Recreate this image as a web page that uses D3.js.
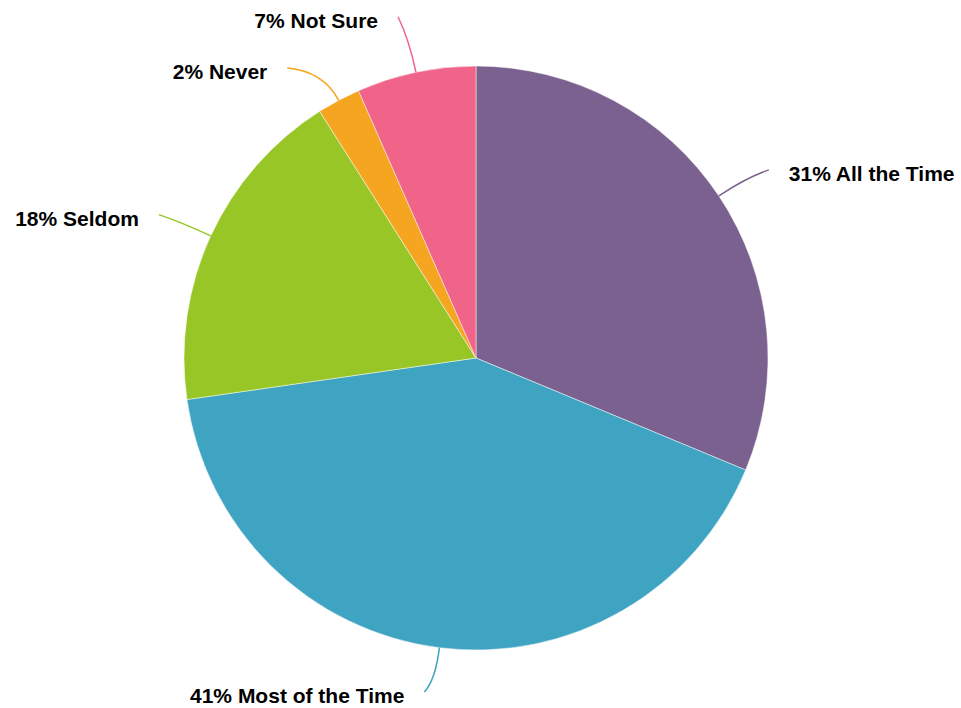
<!doctype HTML>
<html>
<head>
    <style>
        body { margin: 0; background: #fff; }
        .label { font-family: "Liberation Sans", Arial, sans-serif; font-weight: bold; font-size: 21px; fill: #000; }
    </style>
    <script src="https://d3js.org/d3.v7.min.js"></script>
</head>
<body>
<div id="pieChart"></div>
<script>

    // data
    var categories = ["All the Time", "Most of the Time", "Seldom", "Never", "Not Sure"];
    var values = [31.3, 41.5, 18.3, 2.4, 6.6];
    var labels = ["31%", "41%", "18%", "2%", "7%"];
    var colors = ["#7b618f", "#3fa3c2", "#97c626", "#f5a51f", "#f0648a"];

    var width = 961, height = 708;
    var cx = 476, cy = 358, radius = 292;

    // small nudges for the label ends, layout only
    var labelNudge = [1, 1.6, -0.4, -5, -1];   // degrees
    var labelRadius = [348, 338, 348, 346, 350];

    var svg = d3.select("#pieChart").append("svg")
        .attr("width", width)
        .attr("height", height);

    var g = svg.append("g")
        .attr("transform", "translate(" + cx + "," + cy + ")");

    var pie = d3.pie().sort(null).value(d => d.value);
    var arc = d3.arc().innerRadius(0).outerRadius(radius);

    var data = categories.map((c, i) => ({name: c, value: values[i], label: labels[i], color: colors[i]}));
    var arcs = pie(data);

    g.selectAll("path.slice")
        .data(arcs)
        .join("path")
        .attr("class", "slice")
        .attr("d", arc)
        .attr("fill", d => d.data.color)
        .attr("stroke", "#fff")
        .attr("stroke-width", 0.8)
        .attr("stroke-opacity", 0.6);

    function polar(r, a) {
        return [r * Math.sin(a), -r * Math.cos(a)];
    }

    arcs.forEach(function(d, i) {
        var mid = (d.startAngle + d.endAngle) / 2;
        var s = polar(radius, mid);
        var c = polar(325, mid);
        var e = polar(labelRadius[i], mid + labelNudge[i] * Math.PI / 180);
        var right = e[0] > 0;

        g.append("path")
            .attr("d", "M" + s + "Q" + c + " " + e)
            .attr("fill", "none")
            .attr("stroke", d.data.color)
            .attr("stroke-width", 1.5);

        g.append("text")
            .attr("class", "label")
            .attr("x", e[0] + (right ? 20 : -20))
            .attr("y", e[1] + 4)
            .attr("dy", "0.35em")
            .attr("text-anchor", right ? "start" : "end")
            .text(d.data.label + " " + d.data.name);
    });

</script>
</body>
</html>
